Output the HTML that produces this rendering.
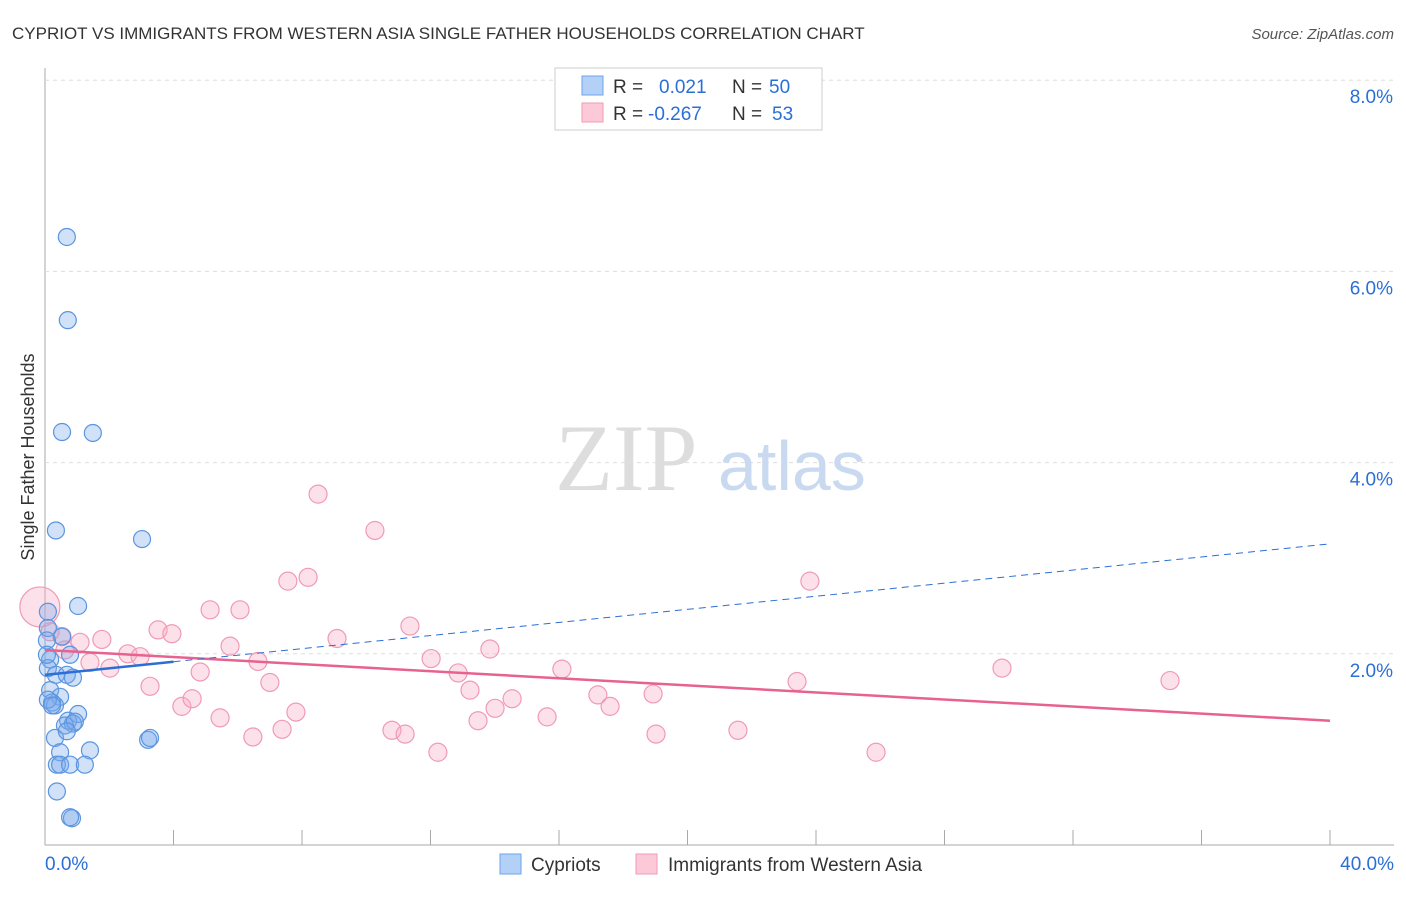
<!DOCTYPE html>
<html><head><meta charset="utf-8"><style>
body{margin:0;background:#fff;font-family:"Liberation Sans",sans-serif;}
</style></head><body>
<svg width="1406" height="892" xmlns="http://www.w3.org/2000/svg">
<text x="12" y="39" font-size="17" fill="#333">CYPRIOT VS IMMIGRANTS FROM WESTERN ASIA SINGLE FATHER HOUSEHOLDS CORRELATION CHART</text>
<text x="1394" y="39" font-size="15" fill="#555" text-anchor="end" font-style="italic">Source: ZipAtlas.com</text>
<text x="0" y="0" transform="translate(34,457) rotate(-90)" font-size="18" fill="#333" text-anchor="middle">Single Father Households</text>
<g id="grid"></g>
<text x="555" y="490" font-size="95" fill="#ddd" font-family="Liberation Serif">ZIP</text>
<text x="718" y="490" font-size="70" fill="#c9daf0">atlas</text>
<g id="marks"></g>
<g>
<rect x="555" y="68" width="267" height="62" fill="#fff" stroke="#ccc"/>
<rect x="582" y="76" width="21" height="19" fill="#b3d1f7" stroke="#6fa3e8"/>
<rect x="582" y="103" width="21" height="19" fill="#fcc9d8" stroke="#f09ab4"/>
<text x="613" y="93" font-size="19" fill="#333">R = </text><text x="659" y="93" font-size="19" fill="#2b6fd6">0.021</text>
<text x="732" y="93" font-size="19" fill="#333">N = </text><text x="769" y="93" font-size="19" fill="#2b6fd6">50</text>
<text x="613" y="120" font-size="19" fill="#333">R = </text><text x="648" y="120" font-size="19" fill="#2b6fd6">-0.267</text>
<text x="732" y="120" font-size="19" fill="#333">N = </text><text x="772" y="120" font-size="19" fill="#2b6fd6">53</text>
</g>
<g>
<rect x="500" y="854" width="21" height="20" fill="#b3d1f7" stroke="#6fa3e8"/>
<text x="531" y="871" font-size="19" fill="#333">Cypriots</text>
<rect x="636" y="854" width="21" height="20" fill="#fcc9d8" stroke="#f09ab4"/>
<text x="668" y="871" font-size="19" fill="#333">Immigrants from Western Asia</text>
</g>
</svg>
<script>
const yTicks=[2,4,6,8];
const xTickLabels=["0.0%","40.0%"];
const blueX=[0.68,0.71,0.53,1.49,0.34,3.02,1.03,0.09,0.09,0.53,0.78,0.16,0.09,0.34,0.68,0.87,0.16,0.47,0.22,0.31,1.03,0.72,0.87,0.62,0.93,0.31,0.68,1.40,0.47,0.37,0.47,0.78,1.24,0.37,0.84,0.78,3.21,3.27,0.09,0.22,0.06,0.06];
const blueY=[6.36,5.49,4.32,4.31,3.29,3.20,2.50,2.44,2.27,2.18,1.99,1.94,1.85,1.78,1.78,1.75,1.62,1.55,1.49,1.46,1.37,1.30,1.27,1.25,1.29,1.12,1.19,0.99,0.97,0.84,0.84,0.84,0.84,0.56,0.28,0.29,1.10,1.12,1.52,1.46,2.14,1.99];
const pinkX=[-0.16,0.16,0.53,0.62,1.09,1.40,1.77,2.02,2.58,2.96,3.27,3.52,3.95,4.26,4.58,4.83,5.14,5.45,5.76,6.07,6.47,6.63,7.00,7.38,7.56,7.81,8.19,8.50,9.09,10.27,10.80,11.21,11.36,12.02,12.23,12.86,13.23,13.48,13.85,14.01,14.54,15.63,16.09,17.21,17.59,18.93,19.02,21.57,23.41,23.81,25.87,29.79,35.02];
const pinkY=[2.49,2.23,2.18,2.04,2.12,1.91,2.15,1.85,2.00,1.97,1.66,2.25,2.21,1.45,1.53,1.81,2.46,1.33,2.08,2.46,1.13,1.92,1.70,1.21,2.76,1.39,2.80,3.67,2.16,3.29,1.20,1.16,2.29,1.95,0.97,1.80,1.62,1.30,2.05,1.43,1.53,1.34,1.84,1.57,1.45,1.58,1.16,1.20,1.71,2.76,0.97,1.85,1.72];
const blueTrend=[1.78,3.15], pinkTrend=[2.04,1.30];
const NS="http://www.w3.org/2000/svg";
const xs=v=>45+v*32.125, ys=v=>845-v*95.6;
function mk(t,a,p){const e=document.createElementNS(NS,t);for(const k in a)e.setAttribute(k,a[k]);p.appendChild(e);return e;}
const g=document.getElementById('grid'), m=document.getElementById('marks');
mk('line',{x1:45,y1:68,x2:45,y2:845,stroke:'#aaa'},g);
mk('line',{x1:45,y1:845,x2:1394,y2:845,stroke:'#aaa'},g);
for(let i=1;i<=10;i++){mk('line',{x1:xs(i*4),y1:830,x2:xs(i*4),y2:845,stroke:'#aaa'},g);}
yTicks.forEach(t=>{
const l=mk('line',{x1:45,y1:ys(t),x2:1394,y2:ys(t),stroke:'#ddd','stroke-dasharray':'4,4'},g);


const tx=mk('text',{x:1393,y:ys(t)+23,'font-size':19,fill:'#2b6fd6','text-anchor':'end'},g);tx.textContent=t.toFixed(1)+'%';


});
const x0=mk('text',{x:45,y:870,'font-size':19,fill:'#2b6fd6'},g);x0.textContent=xTickLabels[0];


const x1=mk('text',{x:1394,y:870,'font-size':19,fill:'#2b6fd6','text-anchor':'end'},g);x1.textContent=xTickLabels[1];


pinkX.forEach((v,i)=>{const c=mk('circle',{cx:xs(v),cy:ys(pinkY[i]),r:i==0?20:9,fill:'rgba(248,170,196,0.35)',stroke:'#f09ab4','stroke-width':1.2},m);

});
blueX.forEach((v,i)=>{const c=mk('circle',{cx:xs(v),cy:ys(blueY[i]),r:8.5,fill:'rgba(120,170,235,0.35)',stroke:'#5b95e0','stroke-width':1.2},m);

});
const pl=mk('line',{x1:xs(0),y1:ys(pinkTrend[0]),x2:xs(40),y2:ys(pinkTrend[1]),stroke:'#e8628f','stroke-width':2.5},m);


const bs=v=>blueTrend[0]+(blueTrend[1]-blueTrend[0])*v/40;
const bd=mk('line',{x1:xs(4),y1:ys(bs(4)),x2:xs(40),y2:ys(bs(40)),stroke:'#2b6fd6','stroke-width':1,'stroke-dasharray':'7,5'},m);


const bl=mk('line',{x1:xs(0),y1:ys(bs(0)),x2:xs(4),y2:ys(bs(4)),stroke:'#2b6fd6','stroke-width':2.5},m);


</script>
</body></html>
